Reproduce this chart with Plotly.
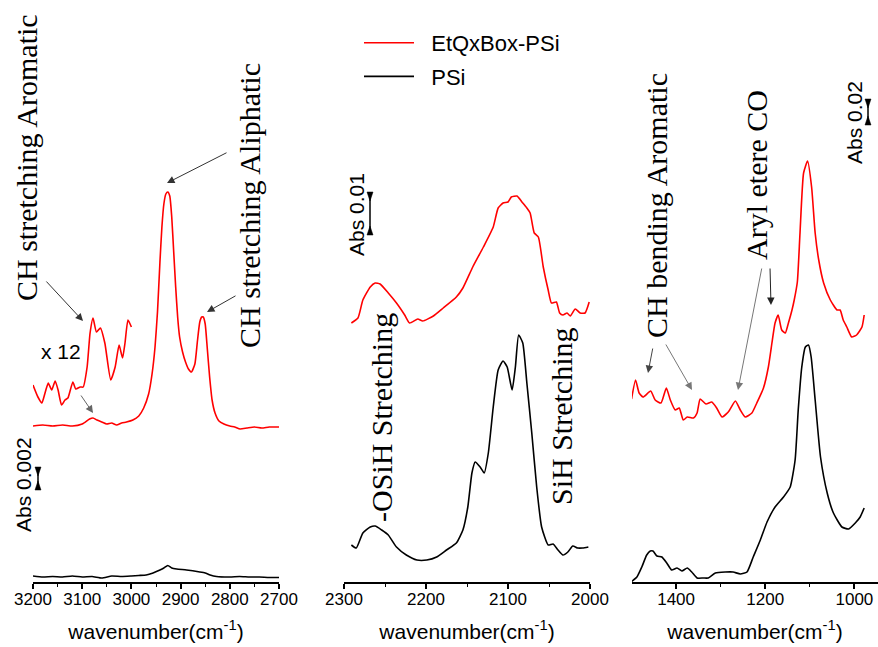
import plotly.graph_objects as go

# ---------------- data (arbitrary offset absorbance units) ----------------
# Panel 1: CH stretching region
p1_red_wn = [3200, 3180, 3160, 3140, 3120, 3100, 3085, 3078, 3070, 3060, 3050, 3040, 3030, 3020, 3010,
             2997, 2985, 2975, 2965, 2958, 2952, 2947, 2942, 2938, 2934, 2930, 2926, 2922, 2918, 2914,
             2910, 2906, 2902, 2896, 2890, 2884, 2878, 2871, 2866, 2861, 2857, 2854, 2850, 2846, 2841,
             2836, 2830, 2822, 2812, 2800, 2790, 2779, 2765, 2750, 2735, 2720, 2700]
p1_red_ab = [156, 157, 156, 157, 156, 158, 163, 164, 162, 160, 158, 159, 157, 159, 160,
             162, 166, 174, 188, 208, 235, 270, 320, 355, 378, 388, 390, 386, 365, 330,
             295, 265, 245, 230, 220, 213, 210, 218, 240, 260, 265, 265, 258, 235, 205,
             182, 169, 161, 158, 156, 155, 153, 154, 155, 154, 155, 155]

p1_x12_wn = [3200, 3190, 3182, 3175, 3169, 3162, 3155, 3149, 3142, 3135, 3129, 3119, 3113, 3104,
             3098, 3090, 3084, 3078, 3071, 3063, 3054, 3042, 3033, 3025, 3018, 3013, 3007, 3000]
p1_x12_ab = [197, 185, 179, 190, 199, 192, 201, 192, 177, 182, 184, 200, 193, 195,
             195, 215, 249, 264, 250, 254, 239, 202, 215, 237, 224, 239, 262, 255]

p1_blk_wn = [3200, 3180, 3160, 3140, 3120, 3100, 3080, 3060, 3040, 3020, 3000, 2985, 2970, 2956,
             2942, 2934, 2926, 2918, 2908, 2888, 2861, 2850, 2840, 2827, 2800, 2780, 2760, 2740,
             2720, 2700]
p1_blk_ab = [6, 5, 5.5, 5, 6, 5, 5.5, 4, 6, 5.5, 6, 6.5, 7, 9,
             12, 14, 16.5, 14, 13, 12, 10, 9, 7, 5.5, 5, 5.5, 5, 5,
             4.5, 4.5]

# Panel 2: SiH stretching region
p2_red_wn = [2291, 2283, 2277, 2268, 2262, 2256, 2246, 2236, 2226, 2220, 2210, 2204, 2191, 2179,
             2163, 2155, 2143, 2130, 2118, 2112, 2106, 2100, 2096, 2089, 2083, 2077, 2073, 2068,
             2063, 2057, 2051, 2047, 2041, 2037, 2033, 2028, 2024, 2018, 2012, 2006, 2001]
p2_red_ab = [259, 264, 282, 295, 299, 298, 289, 279, 267, 259, 263, 261, 266, 274,
             285, 294, 315, 335, 355, 374, 379, 380, 385, 386, 380, 374, 369, 349,
             345, 315, 292, 279, 280, 269, 267, 269, 266, 273, 269, 269, 280]

p2_blk_wn = [2291, 2285, 2277, 2268, 2262, 2254, 2246, 2236, 2224, 2211, 2199, 2187, 2175, 2163,
             2155, 2149, 2144, 2140, 2134, 2129, 2124, 2118, 2112, 2106, 2101, 2095, 2091, 2087,
             2082, 2077, 2071, 2065, 2059, 2051, 2045, 2039, 2033, 2027, 2021, 2015, 2009, 2002]
p2_blk_ab = [37, 34, 49, 55, 56, 52, 47, 35, 27, 22, 22, 25, 32, 39,
             52, 75, 109, 120, 115, 109, 129, 175, 212, 221, 215, 192, 215, 247,
             239, 199, 149, 95, 55, 37, 38, 32, 27, 30, 36, 34, 34, 35]

# Panel 3: fingerprint region
p3_red_wn = [1500, 1491, 1483, 1474, 1457, 1447, 1434, 1422, 1413, 1402, 1393, 1384, 1375, 1361,
             1353, 1346, 1333, 1320, 1309, 1297, 1283, 1267, 1256, 1245, 1230, 1219, 1204, 1193,
             1185, 1178, 1171, 1163, 1155, 1148, 1140, 1135, 1128, 1122, 1114, 1105, 1096, 1088,
             1080, 1069, 1054, 1039, 1032, 1025, 1017, 1006, 995, 983, 978]
p3_red_ab = [183, 202, 189, 185, 191, 182, 179, 194, 182, 172, 174, 162, 165, 164,
             169, 183, 178, 180, 174, 165, 170, 181, 172, 165, 169, 179, 194, 215,
             239, 259, 267, 252, 249, 259, 272, 282, 300, 349, 409, 421, 395, 349,
             322, 299, 282, 272, 272, 262, 255, 245, 247, 255, 267]

p3_blk_wn = [1500, 1488, 1477, 1466, 1458, 1452, 1443, 1432, 1421, 1410, 1398, 1387, 1375, 1365,
             1353, 1339, 1328, 1312, 1290, 1272, 1256, 1241, 1227, 1211, 1196, 1178, 1159, 1144,
             1133, 1126, 1118, 1110, 1103, 1097, 1088, 1076, 1061, 1047, 1028, 1013, 998, 987, 978]
p3_blk_ab = [0.5, 5, 15, 27, 31, 31, 26, 25, 19, 12, 14, 11, 14, 10,
             4, 4, 4, 9, 10, 10, 8, 10, 25, 42, 60, 75, 85, 95,
             122, 172, 215, 235, 237, 225, 182, 125, 89, 69, 55, 53, 59, 65, 74]

series_names = ["EtQxBox-PSi", "PSi"]
p1_ticks = [3200, 3100, 3000, 2900, 2800, 2700]
p2_ticks = [2300, 2200, 2100, 2000]
p3_ticks = [1400, 1200, 1000]

# ---------------- figure ----------------
W, H = 878, 647
MB = 65
PH = H - MB
RED = "#ff0000"
BLK = "#000000"
SERIF = "Times New Roman, Liberation Serif, serif"
SANS = "Arial, Liberation Sans, sans-serif"
NB = "\u00a0\u00a0"


def pp(px, py):
    return px / W, (PH - py) / PH


fig = go.Figure()


def line(x, y, color, name, ax, show):
    fig.add_trace(go.Scatter(x=x, y=y, mode="lines", name=NB + name, legendgroup=name,
                             showlegend=show,
                             line=dict(color=color, width=1.6, shape="spline", smoothing=0.5),
                             xaxis="x" + ax, yaxis="y" + ax, hoverinfo="skip"))


line(p1_red_wn, p1_red_ab, RED, series_names[0], "", True)
line(p1_blk_wn, p1_blk_ab, BLK, series_names[1], "", True)
line(p1_x12_wn, p1_x12_ab, RED, series_names[0], "", False)
line(p2_red_wn, p2_red_ab, RED, series_names[0], "2", False)
line(p2_blk_wn, p2_blk_ab, BLK, series_names[1], "2", False)
line(p3_red_wn, p3_red_ab, RED, series_names[0], "3", False)
line(p3_blk_wn, p3_blk_ab, BLK, series_names[1], "3", False)


def xax(dom, rng, ticks, minor_dtick):
    return dict(domain=dom, range=rng, tickvals=ticks, showline=True, linecolor="black",
                linewidth=1.5, ticks="outside", ticklen=5, tickwidth=1.5, tickcolor="black",
                showgrid=False, zeroline=False, automargin=False, ticklabelstandoff=-4,
                tickfont=dict(family=SANS, size=17, color="black"),
                minor=dict(ticks="outside", ticklen=3, tickwidth=1, tickcolor="black",
                           dtick=minor_dtick, tick0=0, showgrid=False),
                title=dict(text="wavenumber(cm<sup>-1</sup>)",
                           font=dict(family=SANS, size=21, color="black"), standoff=16))


def yax(anchor):
    return dict(range=[0, PH], visible=False, anchor=anchor, domain=[0, 1], automargin=False)


fig.update_layout(
    width=W, height=H,
    margin=dict(l=0, r=0, t=0, b=MB, autoexpand=False),
    paper_bgcolor="white", plot_bgcolor="white",
    xaxis=dict(xax([33 / W, 279 / W], [3200, 2700], p1_ticks, 50), anchor="y"),
    xaxis2=dict(xax([344 / W, 590 / W], [2300, 2000], p2_ticks, 50), anchor="y2"),
    xaxis3=dict(xax([632 / W, 1.0], [1499, 947], p3_ticks, 100), anchor="y3"),
    yaxis=yax("x"), yaxis2=yax("x2"), yaxis3=yax("x3"),
    showlegend=True,
    legend=dict(x=359 / W, y=pp(0, 22)[1], xanchor="left", yanchor="top",
                font=dict(family=SANS, size=22, color="black"),
                bgcolor="rgba(0,0,0,0)", itemwidth=50, tracegroupgap=2,
                traceorder="grouped"),
)

ann = []

# rotated serif labels
labels = [
    ("CH stretching Aromatic", 26, 158),
    ("CH stretching Aliphatic", 250, 206),
    ("-OSiH Stretching", 381, 418),
    ("SiH Stretching", 561, 416),
    ("CH bending Aromatic", 657, 206),
    ("Aryl etere CO", 756, 175),
]
for t, cx, cy in labels:
    x, y = pp(cx, cy)
    ann.append(dict(text=t, x=x, y=y, xref="paper", yref="paper", showarrow=False,
                    textangle=-90, xanchor="center", yanchor="middle",
                    font=dict(family=SERIF, size=30, color="black")))

# scale labels
for t, cx, cy in [("Abs 0.002", 23, 485), ("Abs 0.01", 356, 215), ("Abs 0.02", 854, 123)]:
    x, y = pp(cx, cy)
    ann.append(dict(text=t, x=x, y=y, xref="paper", yref="paper", showarrow=False,
                    textangle=-90, xanchor="center", yanchor="middle",
                    font=dict(family=SANS, size=21, color="black")))

x, y = pp(61, 351)
ann.append(dict(text="x 12", x=x, y=y, xref="paper", yref="paper", showarrow=False,
                xanchor="center", yanchor="middle",
                font=dict(family=SANS, size=21, color="black")))

# arrows: (tail px, tail py, head px, head py, color)
arrows = [
    (45, 280, 83, 321, "#333333"),
    (80, 394, 93, 413, "#666666"),
    (228, 152, 167, 183, "#333333"),
    (237, 295, 207, 312, "#333333"),
    (653, 347, 648, 373, "#444444"),
    (665, 343, 692, 390, "#777777"),
    (762, 267, 738, 390, "#777777"),
    (770, 267, 771, 305, "#222222"),
]
for tx, ty, hx, hy, c in arrows:
    x, y = pp(hx, hy)
    ann.append(dict(text="", x=x, y=y, xref="paper", yref="paper", showarrow=True,
                    ax=tx - hx, ay=ty - hy, arrowhead=2, arrowsize=1.5, arrowwidth=1,
                    arrowcolor=c))

fig.update_layout(annotations=ann)

# scale bars
shapes = []
for bx, y0, y1 in [(38, 467, 490), (370, 192, 235), (868, 99, 125)]:
    xa, ya = pp(bx, y0)
    _, yb = pp(bx, y1)
    shapes.append(dict(type="line", xref="paper", yref="paper", x0=xa, x1=xa, y0=ya, y1=yb,
                       line=dict(color="black", width=1.5)))
    for yy, d in [(y0, 9), (y1, -9)]:
        p1 = pp(bx - 3, yy)
        p2 = pp(bx + 3, yy)
        p3 = pp(bx, yy + d)
        path = "M{},{} L{},{} L{},{} Z".format(p1[0], p1[1], p2[0], p2[1], p3[0], p3[1])
        shapes.append(dict(type="path", xref="paper", yref="paper", path=path,
                           fillcolor="black", line=dict(color="black", width=0.5)))
fig.update_layout(shapes=shapes)

# pin the figure to the top-left corner of the page (no body margin offset)
post = ("document.body.style.margin='0px';"
        "var gd=document.getElementById('{plot_id}');"
        "gd.style.position='fixed';gd.style.left='0px';gd.style.top='0px';")
fig.write_html("out.html", post_script=post, config={"displayModeBar": False})
